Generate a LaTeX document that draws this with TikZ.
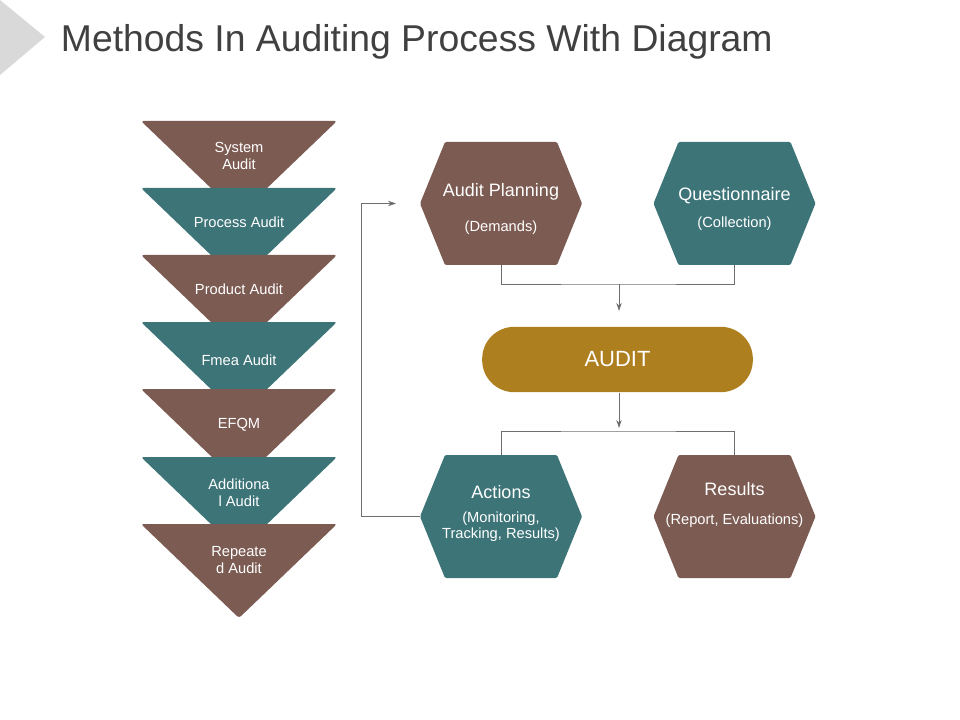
\documentclass[tikz,border=0pt]{standalone}
\usepackage{fontspec}
\setmainfont{Liberation Sans}
\usetikzlibrary{arrows.meta}
\definecolor{brownc}{RGB}{124,91,82}
\definecolor{tealc}{RGB}{61,116,120}
\definecolor{goldc}{RGB}{174,127,31}
\definecolor{linec}{RGB}{110,110,110}
\tikzset{every picture/.style={line width=0.75pt}}
\tikzset{
  hexbox/.style={minimum width=121.5pt,minimum height=92pt,inner sep=0pt,align=center,text=white},
  tri/.style={rounded corners=2pt},
  conn/.style={draw=linec,line width=0.6pt},
  tip/.style={-{Stealth[length=6pt,width=4pt]}}
}
\newcommand{\hexshape}[3]{% centre x, centre y, colour
  \fill [#3, rounded corners=1pt] (#1-81,#2) -- (#1-56,#2-61.5) -- (#1+56,#2-61.5) -- (#1+81,#2) -- (#1+56,#2+61.5) -- (#1-56,#2+61.5) -- cycle;}
\newcommand{\trishape}[2]{% top y, colour
  \fill [#2, tri] (141,#1) -- (337,#1) -- (239,#1+94) -- cycle;}

\begin{document}
\begin{tikzpicture}[x=0.75pt,y=0.75pt,yscale=-1,xscale=1]
	\useasboundingbox (0,0) rectangle (960,720);

	% corner mark and title
	\fill [gray!30] (0,0) -- (45,37) -- (0,75) -- cycle;
	\node [anchor=west, text=black!75, font=\fontsize{28}{33}\selectfont] (title) at (56,42) {Methods In Auditing Process With Diagram};

	% left stack
	\trishape{121}{brownc}
	\trishape{188}{tealc}
	\trishape{255}{brownc}
	\trishape{322}{tealc}
	\trishape{389}{brownc}
	\trishape{457}{tealc}
	\trishape{524}{brownc}
	\node [text=white, align=center, font=\fontsize{11}{13}\selectfont] (sys) at (239,156) {System\\Audit};
	\node [text=white, font=\fontsize{11}{13}\selectfont] (proc) at (239,222) {Process Audit};
	\node [text=white, font=\fontsize{11}{13}\selectfont] (prod) at (239,289) {Product Audit};
	\node [text=white, font=\fontsize{11}{13}\selectfont] (fmea) at (239,360) {Fmea Audit};
	\node [text=white, font=\fontsize{11}{13}\selectfont] (efqm) at (239,425) {EFQM};
	\node [text=white, align=center, font=\fontsize{11}{13}\selectfont] (add) at (239,493) {Additiona\\l Audit};
	\node [text=white, align=center, font=\fontsize{11}{13}\selectfont] (rep) at (239,560) {Repeate\\d Audit};

	% hexagons
	\hexshape{501}{203.5}{brownc}
	\hexshape{734.5}{203.5}{tealc}
	\hexshape{501}{516.5}{tealc}
	\hexshape{734.5}{516.5}{brownc}
	\node [hexbox] (plan) at (501,209) {\fontsize{13.5}{16}\selectfont Audit Planning\\[14pt]\fontsize{11}{13}\selectfont (Demands)};
	\node [hexbox] (quest) at (734.5,209) {\fontsize{13.5}{16}\selectfont Questionnaire\\[8pt]\fontsize{11}{13}\selectfont (Collection)};
	\node [hexbox] (act) at (501,513) {\fontsize{13.5}{16}\selectfont Actions\\[6pt]\fontsize{11}{14}\selectfont (Monitoring,\\\fontsize{11}{14}\selectfont Tracking, Results)};
	\node [hexbox] (res) at (734.5,505) {\fontsize{13.5}{16}\selectfont Results\\[10pt]\fontsize{11}{13}\selectfont (Report, Evaluations)};

	% audit pill
	\node [fill=goldc, rounded corners=24pt, minimum width=203pt, minimum height=49pt, text=white, font=\fontsize{16.5}{20}\selectfont] (audit) at (617.5,359.5) {AUDIT};

	% connectors
	\coordinate (top) at (619,284);
	\coordinate (bot) at (619,431);
	\draw [conn] (plan.south |- 0,265) |- (top) -| (quest.south |- 0,265);
	\draw [conn, tip] (top) -- (619,311);
	\draw [conn, tip] (bot |- audit.south) -- (619,428);
	\draw [conn] (act.north |- 0,455) |- (bot) -| (res.north |- 0,455);
	\draw [conn, tip] (act.west |- 0,516.5) -- (361,516.5) |- (396,203.5);

\end{tikzpicture}
\end{document}
